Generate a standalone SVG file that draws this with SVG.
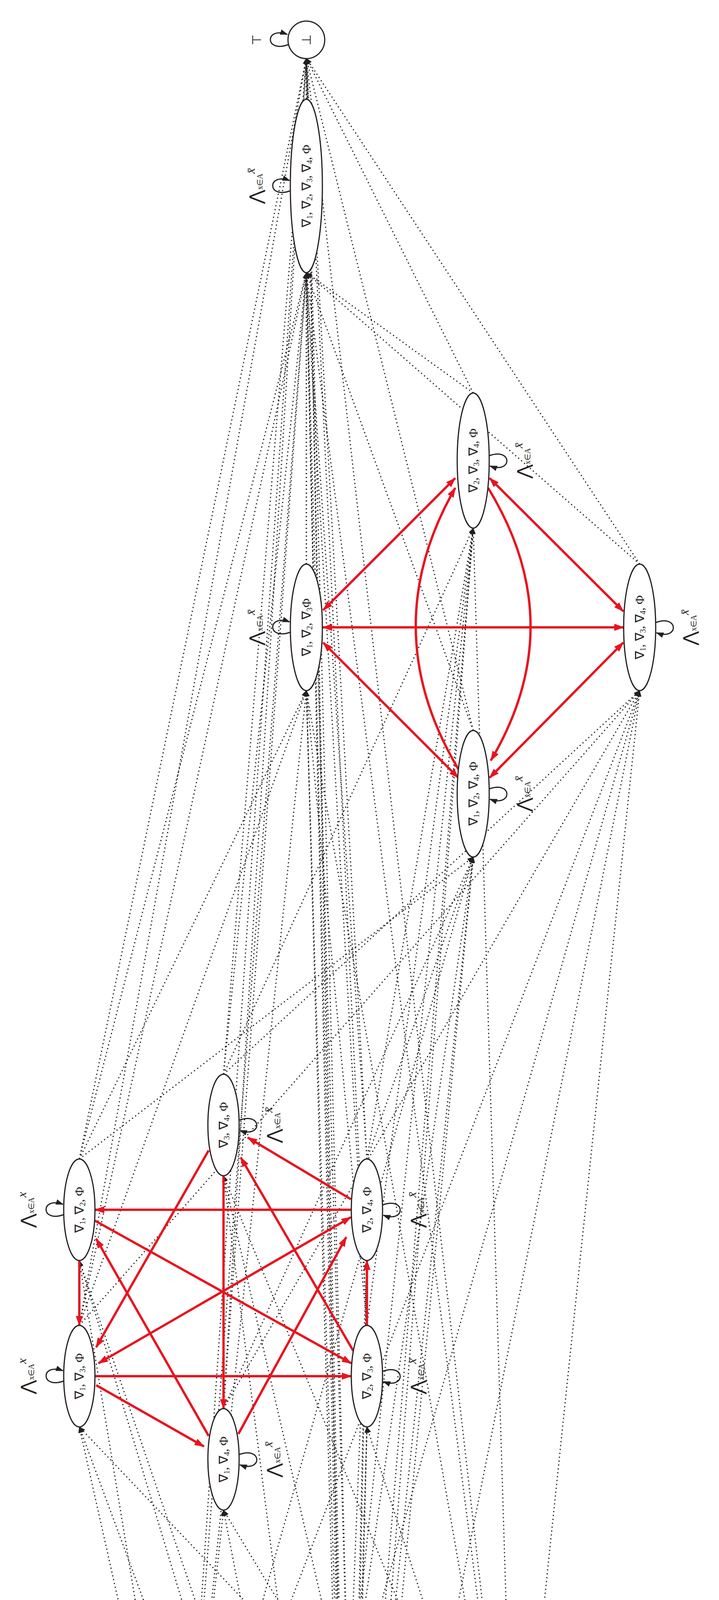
<svg xmlns="http://www.w3.org/2000/svg" width="1840" height="5764" viewBox="0 0 1840 5764">
<style>
.n{fill:#fff;stroke:#231f20;stroke-width:3}
.t{font-family:"Liberation Serif",serif;font-size:32px;fill:#231f20;text-anchor:middle;dominant-baseline:central}
.red{stroke:#e8141f;stroke-width:6;fill:none}
.blk{stroke:#231f20;stroke-width:2.5;fill:none}
.dot{stroke:#231f20;stroke-width:3;stroke-dasharray:3 7;fill:none}
.lp{stroke:#231f20;stroke-width:3;fill:none}
</style>
<defs>
<marker id="ra" markerUnits="userSpaceOnUse" markerWidth="26" markerHeight="18" refX="24" refY="9" orient="auto-start-reverse"><path d="M0,0 L26,9 L0,18 z" fill="#e8141f"/></marker>
<marker id="ba" markerUnits="userSpaceOnUse" markerWidth="20" markerHeight="14" refX="18" refY="7" orient="auto-start-reverse"><path d="M0,0 L20,7 L0,14 z" fill="#231f20"/></marker>
<marker id="da" markerUnits="userSpaceOnUse" markerWidth="16" markerHeight="12" refX="15" refY="6" orient="auto"><path d="M0,0 L16,6 L0,12 z" fill="#231f20"/></marker>
</defs>
<g id="connectors">
<g marker-end="url(#da)" class="dot">
<path d="M892,5512 L203,3227"/><path d="M892,5512 L203,3653"/><path d="M892,5512 L572,3866"/><path d="M892,5512 L572,3010"/><path d="M892,5512 L939,3227"/><path d="M892,5512 L939,3653"/><path d="M892,5512 L784,1768"/><path d="M892,5512 L1637,1768"/><path d="M892,5512 L1211,2194"/><path d="M892,5512 L1211,1352"/><path d="M892,5512 L784,698"/><path d="M892,5512 L784,149"/>
<path d="M466,4826 L203,3227"/><path d="M466,4826 L203,3653"/><path d="M466,4826 L572,3866"/><path d="M466,4826 L784,1768"/><path d="M466,4826 L1637,1768"/><path d="M466,4826 L1211,2194"/><path d="M466,4826 L784,698"/><path d="M466,4826 L784,149"/>
<path d="M892,5249 L203,3227"/><path d="M892,5249 L939,3227"/><path d="M892,5249 L939,3653"/><path d="M892,5249 L784,1768"/><path d="M892,5249 L1211,2194"/><path d="M892,5249 L1211,1352"/><path d="M892,5249 L784,698"/><path d="M892,5249 L784,149"/>
<path d="M1317,4826 L203,3653"/><path d="M1317,4826 L572,3010"/><path d="M1317,4826 L939,3653"/><path d="M1317,4826 L784,1768"/><path d="M1317,4826 L1637,1768"/><path d="M1317,4826 L1211,1352"/><path d="M1317,4826 L784,698"/><path d="M1317,4826 L784,149"/>
<path d="M892,4397 L572,3866"/><path d="M892,4397 L572,3010"/><path d="M892,4397 L939,3227"/><path d="M892,4397 L1637,1768"/><path d="M892,4397 L1211,2194"/><path d="M892,4397 L1211,1352"/><path d="M892,4397 L784,698"/><path d="M892,4397 L784,149"/>
<path d="M203,2967 L784,1768"/><path d="M203,2967 L1211,2194"/><path d="M203,2967 L784,698"/><path d="M203,2967 L784,149"/>
<path d="M203,3393 L784,1768"/><path d="M203,3393 L1637,1768"/><path d="M203,3393 L784,698"/><path d="M203,3393 L784,149"/>
<path d="M572,3606 L1637,1768"/><path d="M572,3606 L1211,2194"/><path d="M572,3606 L784,698"/><path d="M572,3606 L784,149"/>
<path d="M572,2750 L1637,1768"/><path d="M572,2750 L1211,1352"/><path d="M572,2750 L784,698"/><path d="M572,2750 L784,149"/>
<path d="M939,2967 L1211,2194"/><path d="M939,2967 L1211,1352"/><path d="M939,2967 L784,698"/><path d="M939,2967 L784,149"/>
<path d="M939,3393 L784,1768"/><path d="M939,3393 L1211,1352"/><path d="M939,3393 L784,698"/><path d="M939,3393 L784,149"/>
<path d="M784,1444 L784,698"/><path d="M784,1444 L784,149"/><path d="M1637,1444 L784,698"/><path d="M1637,1444 L784,149"/>
<path d="M1211,1870 L784,698"/><path d="M1211,1870 L784,149"/><path d="M1211,1006 L784,698"/><path d="M1211,1006 L784,149"/>
<path d="M784,254 L784,149"/>
</g>
<g class="blk" marker-end="url(#ba)">
<path d="M892,5640 L892,5588" stroke-width="4"/>
<path d="M892,5512 L892,5415" stroke-width="4"/>
<path d="M870,5520 L500,4985"/>
<path d="M915,5520 L1280,4985"/>
<path d="M875,5515 Q600,5000 860,4555"/>
</g>
<g class="red">
<path d="M852,4510 L505,4880" marker-end="url(#ra)"/>
<path d="M505,4945 L852,5300" marker-end="url(#ra)"/>
<path d="M932,5300 L1278,4945" marker-end="url(#ra)"/>
<path d="M1278,4880 L932,4510" marker-end="url(#ra)"/>
<path d="M203,3227 L203,3393" marker-end="url(#ra)"/>
<path d="M899,3097 L243,3097" marker-end="url(#ra)"/>
<path d="M243,3523 L899,3523" marker-end="url(#ra)"/>
<path d="M572,3010 L572,3606" marker-end="url(#ra)"/>
<path d="M939,3393 L939,3227" marker-end="url(#ra)"/>
<path d="M243,3125 L899,3490" marker-end="url(#ra)"/>
<path d="M904,3458 L616,2963" marker-end="url(#ra)"/>
<path d="M898,3070 L634,2912" marker-end="url(#ra)"/>
<path d="M534,2945 L246,3449" marker-end="url(#ra)"/>
<path d="M898,3116 L252,3490" marker-start="url(#ra)" marker-end="url(#ra)"/>
<path d="M610,3671 L886,3167" marker-end="url(#ra)"/>
<path d="M534,3676 L246,3171" marker-end="url(#ra)"/>
<path d="M246,3546 L522,3703" marker-end="url(#ra)"/>
<path d="M826,1606 L1596,1606" marker-start="url(#ra)" marker-end="url(#ra)"/>
<path d="M1165,1224 L827,1562" marker-start="url(#ra)" marker-end="url(#ra)"/>
<path d="M1253,1224 L1595,1565" marker-start="url(#ra)" marker-end="url(#ra)"/>
<path d="M827,1645 L1173,1991" marker-start="url(#ra)" marker-end="url(#ra)"/>
<path d="M1595,1645 L1253,1991" marker-start="url(#ra)" marker-end="url(#ra)"/>
<path d="M1173,1969 Q959,1609 1165,1249" marker-end="url(#ra)"/>
<path d="M1249,1249 Q1463,1598 1256,1947" marker-end="url(#ra)"/>
</g>
<g class="lp" marker-end="url(#ba)">
<path d="M425,4921 C364,4944 364,4874 422,4895"/>
<path d="M932,5320 C993,5297 993,5367 935,5346"/>
<path d="M1358,4897 C1419,4874 1419,4944 1361,4923"/>
<path d="M933,4468 C994,4445 994,4515 936,4494"/>
<path d="M856,5561 C795,5584 795,5514 853,5535"/>
<path d="M164,3109 C103,3132 103,3062 161,3083"/>
<path d="M164,3535 C103,3558 103,3488 161,3509"/>
<path d="M611,3724 C672,3701 672,3771 614,3750"/>
<path d="M611,2868 C672,2845 672,2915 614,2894"/>
<path d="M978,3085 C1039,3062 1039,3132 981,3111"/>
<path d="M978,3511 C1039,3488 1039,3558 981,3537"/>
<path d="M744,1618 C683,1641 683,1571 741,1592"/>
<path d="M1677,1594 C1738,1571 1738,1641 1680,1620"/>
<path d="M1251,2020 C1312,1997 1312,2067 1254,2046"/>
<path d="M1251,1167 C1312,1144 1312,1214 1254,1193"/>
<path d="M744,488 C683,511 683,441 741,462"/>
<path d="M738,114 C677,137 677,67 735,88"/>
</g>
<g class="t" font-size="28">
<text class="t" transform="translate(870,5700) rotate(-90)" x="0" y="22">start</text>
<text class="t" transform="translate(862,5458) rotate(-90)">ab̅c̅d̅</text>
<text class="t" transform="translate(672,5248) rotate(-90)">a̅b̅c̅d</text>
<text class="t" transform="translate(1082,5216) rotate(-50)">a̅b̅cd̅</text>
<text class="t" transform="translate(700,5026) rotate(-90)">a̅bc̅d̅</text>
</g>
</g>
<g id="n0"><circle class="n" cx="892" cy="5549" r="38"/><circle class="n" cx="892" cy="5549" r="32"/><text class="t" transform="translate(892,5549) rotate(-90)">Φ</text></g>
<g id="n1"><ellipse class="n" cx="466" cy="4909" rx="42" ry="83"/><text class="t" transform="translate(466,4909) rotate(-90)">∇<tspan font-size="20" dy="8">1</tspan><tspan dy="-8">, Φ</tspan></text><text class="t" transform="translate(330,4909) rotate(-90)"><tspan font-size="44">⋀</tspan><tspan font-size="20" dy="10">x∈A</tspan><tspan font-style="italic" dy="-24">x̄</tspan></text></g>
<g id="n2"><ellipse class="n" cx="892" cy="5332" rx="41" ry="83"/><text class="t" transform="translate(892,5332) rotate(-90)">∇<tspan font-size="20" dy="8">2</tspan><tspan dy="-8">, Φ</tspan></text><text class="t" transform="translate(1020,5332) rotate(-90)"><tspan font-size="44">⋀</tspan><tspan font-size="20" dy="10">x∈A</tspan><tspan font-style="italic" dy="-24">x̄</tspan></text></g>
<g id="n3"><ellipse class="n" cx="1317" cy="4909" rx="42" ry="83"/><text class="t" transform="translate(1317,4909) rotate(-90)">∇<tspan font-size="20" dy="8">3</tspan><tspan dy="-8">, Φ</tspan></text><text class="t" transform="translate(1450,4909) rotate(-90)"><tspan font-size="44">⋀</tspan><tspan font-size="20" dy="10">x∈A</tspan><tspan font-style="italic" dy="-24">x̄</tspan></text></g>
<g id="n4"><ellipse class="n" cx="892" cy="4480" rx="42" ry="83"/><text class="t" transform="translate(892,4480) rotate(-90)">∇<tspan font-size="20" dy="8">4</tspan><tspan dy="-8">, Φ</tspan></text><text class="t" transform="translate(1020,4480) rotate(-90)"><tspan font-size="44">⋀</tspan><tspan font-size="20" dy="10">x∈A</tspan><tspan font-style="italic" dy="-24">x̄</tspan></text></g>
<g id="n12"><ellipse class="n" cx="203" cy="3097" rx="40" ry="130"/><text class="t" transform="translate(203,3097) rotate(-90)">∇<tspan font-size="20" dy="8">1</tspan><tspan dy="-8">, ∇</tspan><tspan font-size="20" dy="8">2</tspan><tspan dy="-8">, Φ</tspan></text><text class="t" transform="translate(70,3097) rotate(-90)"><tspan font-size="44">⋀</tspan><tspan font-size="20" dy="10">x∈A</tspan><tspan font-style="italic" dy="-24">x</tspan></text></g>
<g id="n13"><ellipse class="n" cx="203" cy="3523" rx="40" ry="130"/><text class="t" transform="translate(203,3523) rotate(-90)">∇<tspan font-size="20" dy="8">1</tspan><tspan dy="-8">, ∇</tspan><tspan font-size="20" dy="8">3</tspan><tspan dy="-8">, Φ</tspan></text><text class="t" transform="translate(70,3523) rotate(-90)"><tspan font-size="44">⋀</tspan><tspan font-size="20" dy="10">x∈A</tspan><tspan font-style="italic" dy="-24">x</tspan></text></g>
<g id="n14"><ellipse class="n" cx="572" cy="3736" rx="40" ry="130"/><text class="t" transform="translate(572,3736) rotate(-90)">∇<tspan font-size="20" dy="8">1</tspan><tspan dy="-8">, ∇</tspan><tspan font-size="20" dy="8">4</tspan><tspan dy="-8">, Φ</tspan></text><text class="t" transform="translate(700,3736) rotate(-90)"><tspan font-size="44">⋀</tspan><tspan font-size="20" dy="10">x∈A</tspan><tspan font-style="italic" dy="-24">x̄</tspan></text></g>
<g id="n34"><ellipse class="n" cx="572" cy="2880" rx="40" ry="130"/><text class="t" transform="translate(572,2880) rotate(-90)">∇<tspan font-size="20" dy="8">3</tspan><tspan dy="-8">, ∇</tspan><tspan font-size="20" dy="8">4</tspan><tspan dy="-8">, Φ</tspan></text><text class="t" transform="translate(700,2880) rotate(-90)"><tspan font-size="44">⋀</tspan><tspan font-size="20" dy="10">x∈A</tspan><tspan font-style="italic" dy="-24">x̄</tspan></text></g>
<g id="n24"><ellipse class="n" cx="939" cy="3097" rx="40" ry="130"/><text class="t" transform="translate(939,3097) rotate(-90)">∇<tspan font-size="20" dy="8">2</tspan><tspan dy="-8">, ∇</tspan><tspan font-size="20" dy="8">4</tspan><tspan dy="-8">, Φ</tspan></text><text class="t" transform="translate(1068,3097) rotate(-90)"><tspan font-size="44">⋀</tspan><tspan font-size="20" dy="10">x∈A</tspan><tspan font-style="italic" dy="-24">x̄</tspan></text></g>
<g id="n23"><ellipse class="n" cx="939" cy="3523" rx="40" ry="130"/><text class="t" transform="translate(939,3523) rotate(-90)">∇<tspan font-size="20" dy="8">2</tspan><tspan dy="-8">, ∇</tspan><tspan font-size="20" dy="8">3</tspan><tspan dy="-8">, Φ</tspan></text><text class="t" transform="translate(1068,3523) rotate(-90)"><tspan font-size="44">⋀</tspan><tspan font-size="20" dy="10">x∈A</tspan><tspan font-style="italic" dy="-24">x̄</tspan></text></g>
<g id="n123"><ellipse class="n" cx="784" cy="1606" rx="41" ry="162"/><text class="t" transform="translate(784,1606) rotate(-90)">∇<tspan font-size="20" dy="8">1</tspan><tspan dy="-8">, ∇</tspan><tspan font-size="20" dy="8">2</tspan><tspan dy="-8">, ∇</tspan><tspan font-size="20" dy="8">3</tspan><tspan dy="-8">Φ</tspan></text><text class="t" transform="translate(655,1606) rotate(-90)"><tspan font-size="44">⋀</tspan><tspan font-size="20" dy="10">x∈A</tspan><tspan font-style="italic" dy="-24">x̄</tspan></text></g>
<g id="n134"><ellipse class="n" cx="1637" cy="1606" rx="41" ry="162"/><text class="t" transform="translate(1637,1606) rotate(-90)">∇<tspan font-size="20" dy="8">1</tspan><tspan dy="-8">, ∇</tspan><tspan font-size="20" dy="8">3</tspan><tspan dy="-8">, ∇</tspan><tspan font-size="20" dy="8">4</tspan><tspan dy="-8">, Φ</tspan></text><text class="t" transform="translate(1765,1606) rotate(-90)"><tspan font-size="44">⋀</tspan><tspan font-size="20" dy="10">x∈A</tspan><tspan font-style="italic" dy="-24">x̄</tspan></text></g>
<g id="n124"><ellipse class="n" cx="1211" cy="2032" rx="41" ry="162"/><text class="t" transform="translate(1211,2032) rotate(-90)">∇<tspan font-size="20" dy="8">1</tspan><tspan dy="-8">, ∇</tspan><tspan font-size="20" dy="8">2</tspan><tspan dy="-8">, ∇</tspan><tspan font-size="20" dy="8">4</tspan><tspan dy="-8">, Φ</tspan></text><text class="t" transform="translate(1340,2032) rotate(-90)"><tspan font-size="44">⋀</tspan><tspan font-size="20" dy="10">x∈A</tspan><tspan font-style="italic" dy="-24">x̄</tspan></text></g>
<g id="n234"><ellipse class="n" cx="1211" cy="1179" rx="41" ry="173"/><text class="t" transform="translate(1211,1179) rotate(-90)">∇<tspan font-size="20" dy="8">2</tspan><tspan dy="-8">, ∇</tspan><tspan font-size="20" dy="8">3</tspan><tspan dy="-8">, ∇</tspan><tspan font-size="20" dy="8">4</tspan><tspan dy="-8">, Φ</tspan></text><text class="t" transform="translate(1340,1179) rotate(-90)"><tspan font-size="44">⋀</tspan><tspan font-size="20" dy="10">x∈A</tspan><tspan font-style="italic" dy="-24">x̄</tspan></text></g>
<g id="n1234"><ellipse class="n" cx="784" cy="476" rx="41" ry="222"/><text class="t" transform="translate(784,476) rotate(-90)">∇<tspan font-size="20" dy="8">1</tspan><tspan dy="-8">, ∇</tspan><tspan font-size="20" dy="8">2</tspan><tspan dy="-8">, ∇</tspan><tspan font-size="20" dy="8">3</tspan><tspan dy="-8">, ∇</tspan><tspan font-size="20" dy="8">4</tspan><tspan dy="-8">, Φ</tspan></text><text class="t" transform="translate(655,476) rotate(-90)"><tspan font-size="44">⋀</tspan><tspan font-size="20" dy="10">x∈A</tspan><tspan font-style="italic" dy="-24">x̄</tspan></text></g>
<g id="nbot"><ellipse class="n" cx="784" cy="102" rx="47" ry="48"/><text class="t" transform="translate(784,102) rotate(-90)">⊥</text><text class="t" transform="translate(657,102) rotate(-90)">⊤</text></g>
</svg>
